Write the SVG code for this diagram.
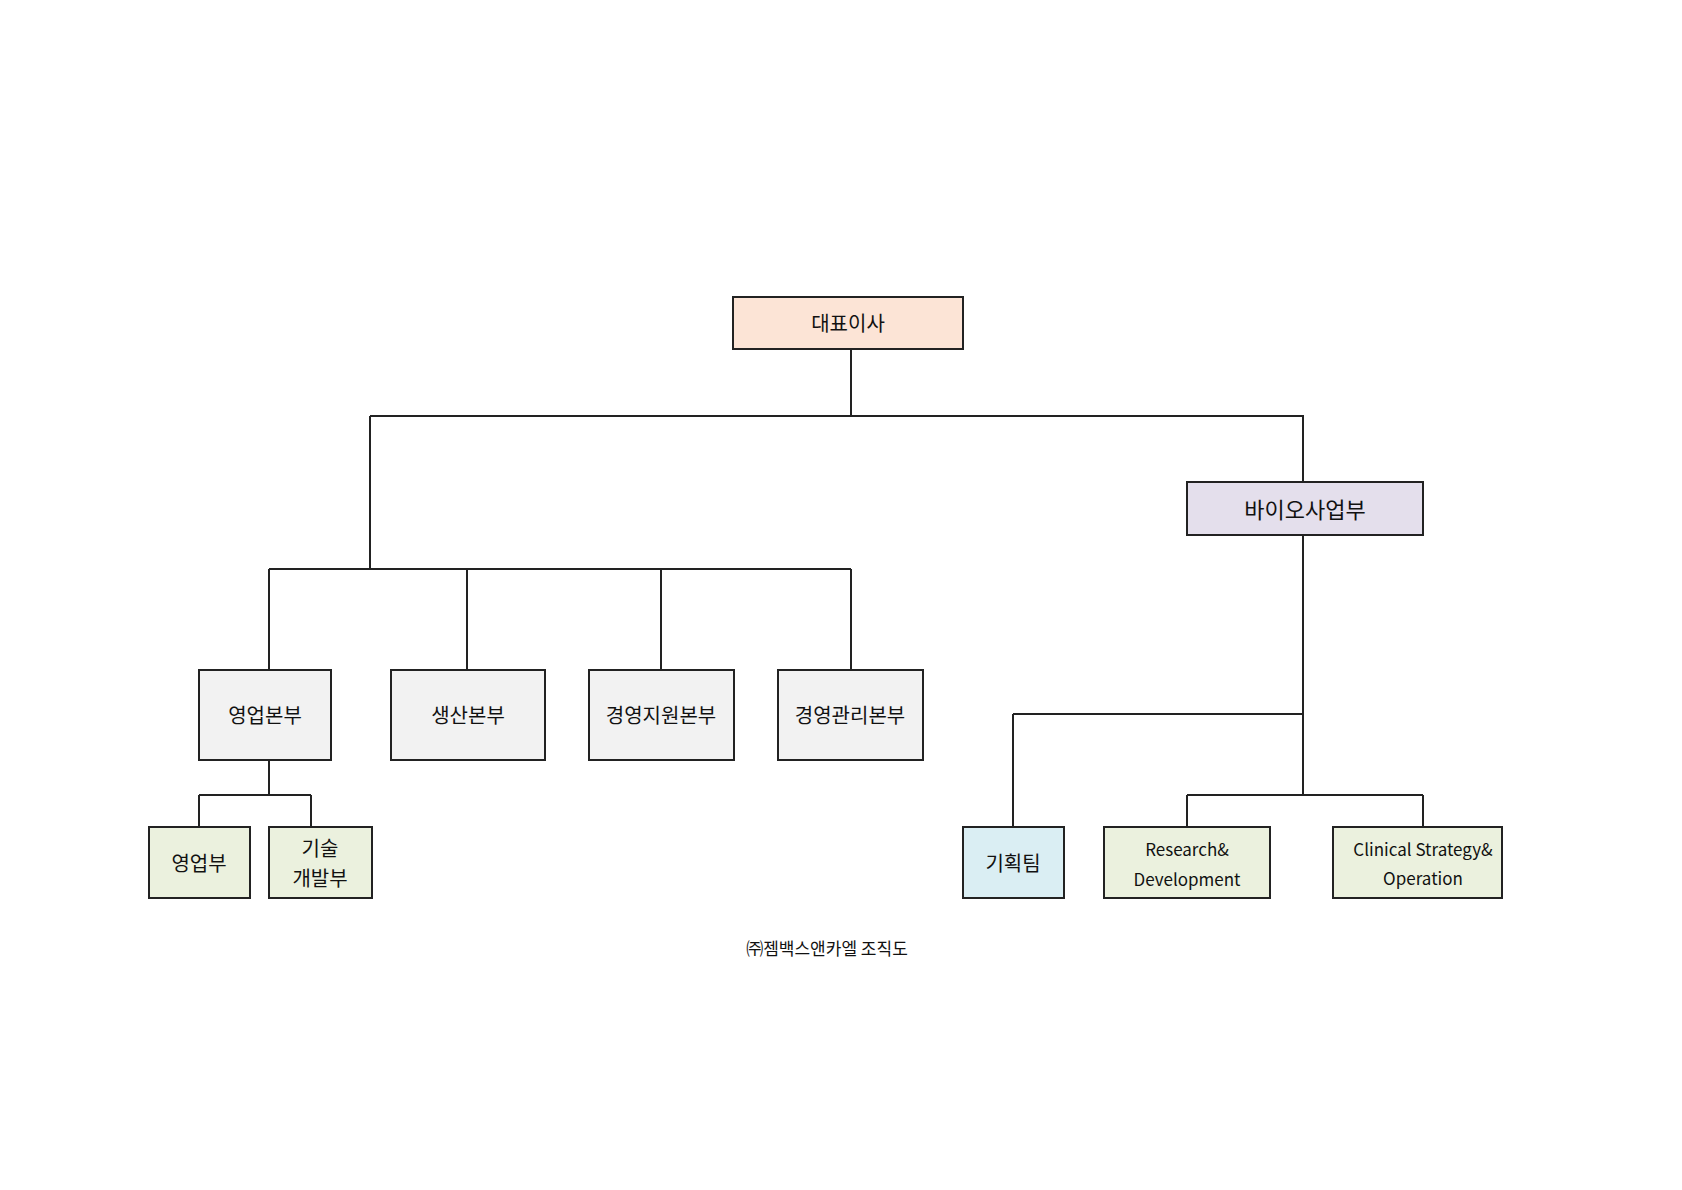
<svg xmlns="http://www.w3.org/2000/svg" width="1682" height="1190" viewBox="0 0 1682 1190">
<style>
rect{stroke:#222;stroke-width:2}
text{font-family:"Noto Sans CJK KR","Noto Sans",sans-serif;font-size:20px;fill:#111;text-anchor:middle;dominant-baseline:central}
.en{font-size:17px}
#conn path{fill:none;stroke:#222;stroke-width:2}
</style>
<rect width="1682" height="1190" fill="#fff" style="stroke:none"/>
<g id="conn">
<path d="M851 349V416M370 416H1303V482M370 416V569M269 569H851M269 569V670M467 569V670M661 569V670M851 569V670"/>
<path d="M269 760V795M199 795H311M199 795V827M311 795V827"/>
<path d="M1303 535V795M1013 714H1303M1013 714V827M1187 795H1423M1187 795V827M1423 795V827"/>
</g>
<g id="ceo"><rect x="733" y="297" width="230" height="52" fill="#fce4d6"/><text x="848" y="322">대표이사</text></g>
<g id="bio"><rect x="1187" y="482" width="236" height="53" fill="#e4dfec"/><text x="1305" y="508" style="font-size:22px">바이오사업부</text></g>
<g id="sales-hq"><rect x="199" y="670" width="132" height="90" fill="#f2f2f2"/><text x="265" y="714">영업본부</text></g>
<g id="prod-hq"><rect x="391" y="670" width="154" height="90" fill="#f2f2f2"/><text x="468" y="714">생산본부</text></g>
<g id="support-hq"><rect x="589" y="670" width="145" height="90" fill="#f2f2f2"/><text x="661" y="714">경영지원본부</text></g>
<g id="mgmt-hq"><rect x="778" y="670" width="145" height="90" fill="#f2f2f2"/><text x="850" y="714">경영관리본부</text></g>
<g id="sales"><rect x="149" y="827" width="101" height="71" fill="#ebf1de"/><text x="199" y="862">영업부</text></g>
<g id="tech"><rect x="269" y="827" width="103" height="71" fill="#ebf1de"/><text x="320" y="847">기술</text><text x="320" y="877">개발부</text></g>
<g id="plan"><rect x="963" y="827" width="101" height="71" fill="#daeef3"/><text x="1013" y="862">기획팀</text></g>
<g id="rnd"><rect x="1104" y="827" width="166" height="71" fill="#ebf1de"/><text class="en" x="1187" y="848">Research&amp;</text><text class="en" x="1187" y="878">Development</text></g>
<g id="cso"><rect x="1333" y="827" width="169" height="71" fill="#ebf1de"/><text class="en" x="1423" y="848">Clinical Strategy&amp;</text><text class="en" x="1423" y="877">Operation</text></g>
<text x="827" y="947" style="font-size:17px">㈜젬백스앤카엘 조직도</text>
</svg>
